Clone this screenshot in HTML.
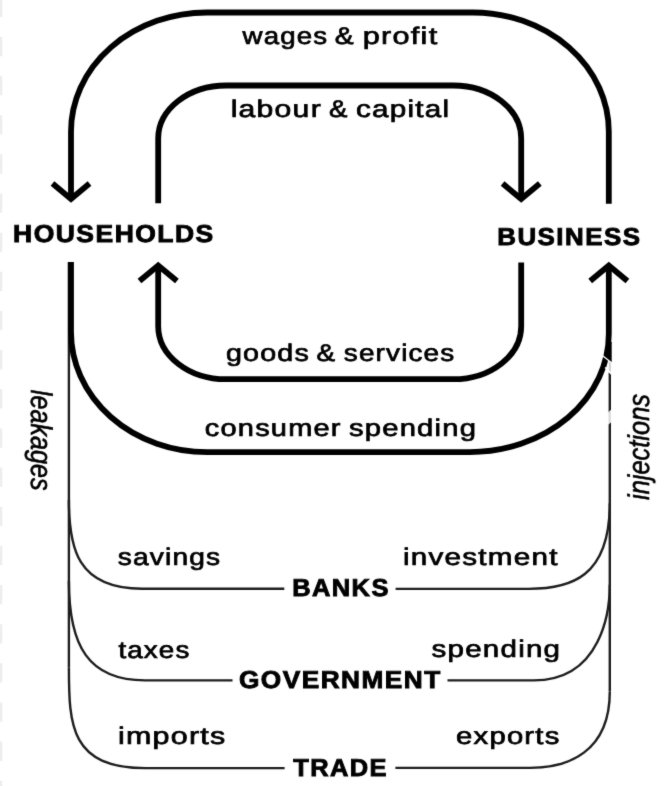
<!DOCTYPE html>
<html><head><meta charset="utf-8"><style>
html,body{margin:0;padding:0;background:#fff;}
body{width:670px;height:786px;overflow:hidden;position:relative;}
svg{position:absolute;left:0;top:0;will-change:transform;}
text{font-family:"Liberation Sans",sans-serif;fill:#000;text-rendering:geometricPrecision;}
</style></head><body>
<svg width="670" height="786" viewBox="0 0 670 786">
<defs><filter id="bl" color-interpolation-filters="sRGB" filterUnits="userSpaceOnUse" x="-10" y="-10" width="700" height="810"><feConvolveMatrix order="3" kernelMatrix="0.01134 0.08382 0.01134 0.08382 0.61935 0.08382 0.01134 0.08382 0.01134" divisor="1" edgeMode="none" preserveAlpha="false"/></filter></defs>
<g filter="url(#bl)">
<rect x="-10" y="-10" width="700" height="810" fill="#fff"/>
<g id="edge" stroke="#ececec" stroke-width="2.2" stroke-dasharray="19.3 19.85"><path d="M1.1,-2.25 V790"/></g>
<g id="thin" fill="none" stroke="#1e1e1e" stroke-width="2.4">
<path d="M68.9,262 V667.7"/>
<path d="M68.9,667.7 C68.9,725.73 70.59,768.1 145.8,768.1 H284.6"/>
<path d="M395.4,767.9 H530.1 C567.24,767.9 609.8,752.6 609.8,691.4"/>
<path d="M609.8,372.5 V691.4"/>
<path d="M68.9,500 C68.9,547.51 76.72,588.8 142,588.8 H284.3"/>
<path d="M395.6,588.9 H528.6 C570.09,588.9 609.8,577.86 609.8,503.3"/>
<path d="M68.9,581 C68.9,645.61 88.15,680.4 145,680.4 H232.5"/>
<path d="M447.5,680.4 H533.6 C602.03,680.4 609.8,609.87 609.8,584.7"/>
</g>
<g id="thick" fill="none" stroke="#000" stroke-width="5.8" stroke-linejoin="miter" stroke-miterlimit="10">
<path d="M71,199 V131.5 A136,119 0 0 1 207,12.5 H472.8 A136,119 0 0 1 608.8,131.5 V203.7"/>
<path d="M52.5,183.5 L71,199 L89.5,183.5"/>
<path d="M71,262 V332.1 A136,120 0 0 0 207,452.1 H469.8 A139,118 0 0 0 608.8,334.1 V265.5"/>
<path d="M590.2,281 L608.8,265.5 L627.4,281"/>
<path d="M158.2,203.2 V138.5 A68,53 0 0 1 226.2,85.5 H453.2 A68,53 0 0 1 521.2,138.5 V199"/>
<path d="M502.6,183.5 L521.2,199 L539.8,183.5"/>
<path d="M158.2,265.5 V326.2 A68,53 0 0 0 226.2,379.2 H453.2 A68,53 0 0 0 521.2,326.2 V262.5"/>
<path d="M139.5,281 L158.2,265.5 L176.9,281"/>
</g>
<g id="glitch">
<path d="M608.6,342 L611.7,342 L611.7,362.8 L605.5,357.8 Z" fill="#000"/>
<path d="M608.8,362 H610.9 V373 H608.8 Z" fill="#cfcfcf"/>
<path d="M602,355.2 L612.5,363.4" stroke="#fff" stroke-width="1.3" fill="none"/>
<path d="M605.2,367.4 L612,374.6" stroke="#fff" stroke-width="1.6" fill="none"/>
<path d="M606.4,414.6 L612.2,408.6 L612.2,420.6 L606.4,426.4 Z" fill="#fff"/>
<path d="M608.6,412.8 L610.8,410.6 L610.8,422.2 L608.6,424.4 Z" fill="#d8d8d8"/>
</g>
<g id="txt">
<text x="242.58" y="44.4" font-size="24" font-weight="400" stroke="#000" stroke-width="0.7" letter-spacing="1.0" textLength="85.65" lengthAdjust="spacingAndGlyphs">wages</text>
<text x="334.68" y="44.4" font-size="24" font-weight="400" stroke="#000" stroke-width="0.7" letter-spacing="1.0" textLength="20.04" lengthAdjust="spacingAndGlyphs">&amp;</text>
<text x="362.76" y="44.4" font-size="24" font-weight="400" stroke="#000" stroke-width="0.7" letter-spacing="1.0" textLength="75.67" lengthAdjust="spacingAndGlyphs">profit</text>
<text x="230.66" y="117.1" font-size="24" font-weight="400" stroke="#000" stroke-width="0.7" letter-spacing="1.0" textLength="91.26" lengthAdjust="spacingAndGlyphs">labour</text>
<text x="328.92" y="117.1" font-size="24" font-weight="400" stroke="#000" stroke-width="0.7" letter-spacing="1.0" textLength="19.55" lengthAdjust="spacingAndGlyphs">&amp;</text>
<text x="355.91" y="117.1" font-size="24" font-weight="400" stroke="#000" stroke-width="0.7" letter-spacing="1.0" textLength="94.32" lengthAdjust="spacingAndGlyphs">capital</text>
<text x="13.03" y="242" font-size="24.5" font-weight="700" stroke="#000" stroke-width="0.9" letter-spacing="1.4" textLength="201.78" lengthAdjust="spacingAndGlyphs">HOUSEHOLDS</text>
<text x="497.23" y="244.5" font-size="24.5" font-weight="700" stroke="#000" stroke-width="0.9" letter-spacing="1.4" textLength="144.21" lengthAdjust="spacingAndGlyphs">BUSINESS</text>
<text x="225.94" y="361.3" font-size="24" font-weight="400" stroke="#000" stroke-width="0.7" letter-spacing="1.0" textLength="84.04" lengthAdjust="spacingAndGlyphs">goods</text>
<text x="316.58" y="361.3" font-size="24" font-weight="400" stroke="#000" stroke-width="0.7" letter-spacing="1.0" textLength="19.78" lengthAdjust="spacingAndGlyphs">&amp;</text>
<text x="343.8" y="361.3" font-size="24" font-weight="400" stroke="#000" stroke-width="0.7" letter-spacing="1.0" textLength="111.63" lengthAdjust="spacingAndGlyphs">services</text>
<text x="204.85" y="435.9" font-size="24" font-weight="400" stroke="#000" stroke-width="0.7" letter-spacing="1.0" textLength="136.8" lengthAdjust="spacingAndGlyphs">consumer</text>
<text x="348.94" y="435.9" font-size="24" font-weight="400" stroke="#000" stroke-width="0.7" letter-spacing="1.0" textLength="128.21" lengthAdjust="spacingAndGlyphs">spending</text>
<text x="117.71" y="565" font-size="24" font-weight="400" stroke="#000" stroke-width="0.7" letter-spacing="1.0" textLength="103.6" lengthAdjust="spacingAndGlyphs">savings</text>
<text x="403" y="564.8" font-size="24" font-weight="400" stroke="#000" stroke-width="0.7" letter-spacing="1.0" textLength="155.61" lengthAdjust="spacingAndGlyphs">investment</text>
<text x="292.17" y="596" font-size="24.5" font-weight="700" stroke="#000" stroke-width="0.9" letter-spacing="1.4" textLength="97.67" lengthAdjust="spacingAndGlyphs">BANKS</text>
<text x="118.42" y="657.6" font-size="24" font-weight="400" stroke="#000" stroke-width="0.7" letter-spacing="1.0" textLength="72.06" lengthAdjust="spacingAndGlyphs">taxes</text>
<text x="431.59" y="656.8" font-size="24" font-weight="400" stroke="#000" stroke-width="0.7" letter-spacing="1.0" textLength="129.67" lengthAdjust="spacingAndGlyphs">spending</text>
<text x="238.92" y="687.6" font-size="24.5" font-weight="700" stroke="#000" stroke-width="0.9" letter-spacing="1.4" textLength="202.84" lengthAdjust="spacingAndGlyphs">GOVERNMENT</text>
<text x="117.94" y="744.2" font-size="24" font-weight="400" stroke="#000" stroke-width="0.7" letter-spacing="1.0" textLength="108.6" lengthAdjust="spacingAndGlyphs">imports</text>
<text x="456.11" y="744.2" font-size="24" font-weight="400" stroke="#000" stroke-width="0.7" letter-spacing="1.0" textLength="104.36" lengthAdjust="spacingAndGlyphs">exports</text>
<text x="293.17" y="776.3" font-size="24.5" font-weight="700" stroke="#000" stroke-width="0.9" letter-spacing="1.4" textLength="94.84" lengthAdjust="spacingAndGlyphs">TRADE</text>
<text transform="translate(31,389.8) rotate(90)" x="0" y="0" font-size="30" font-style="italic" stroke="#000" stroke-width="0.6" textLength="100.9" lengthAdjust="spacingAndGlyphs">leakages</text>
<text transform="translate(648.9,500) rotate(-90)" x="0" y="0" font-size="30" font-style="italic" stroke="#000" stroke-width="0.6" textLength="106" lengthAdjust="spacingAndGlyphs">injections</text>
</g>
</g>
</svg>
</body></html>
